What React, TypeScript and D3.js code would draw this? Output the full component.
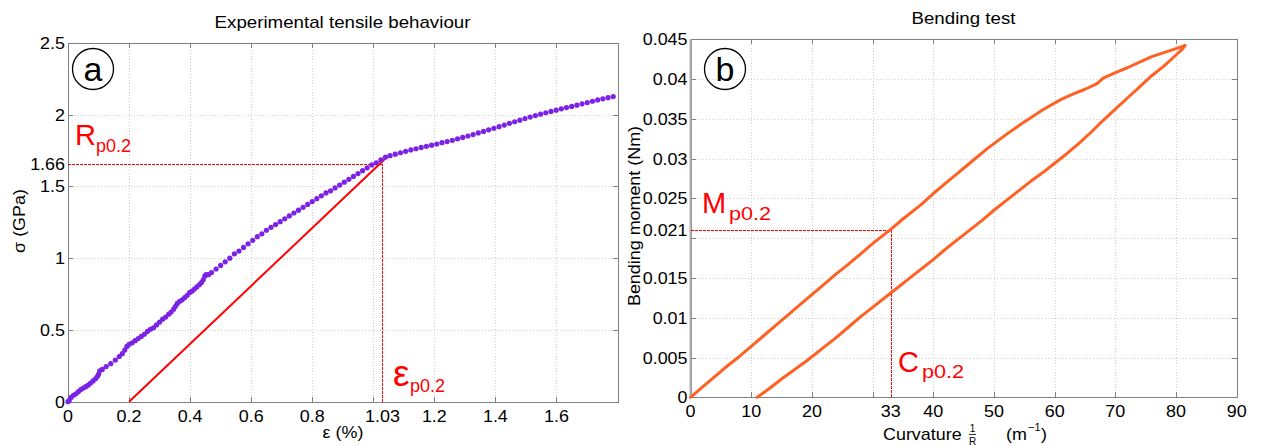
import React from "react";
import * as d3 from "d3";

// ---------- Data: panel (a) tensile test ----------
const tensileStrain = [
  0, 0.004, 0.01, 0.018, 0.026, 0.034, 0.042, 0.05, 0.058, 0.066, 0.074, 0.082, 0.09, 0.096, 0.1, 0.104,
  0.112, 0.125, 0.14, 0.155, 0.168, 0.178, 0.186, 0.193, 0.2, 0.21, 0.22, 0.23, 0.24, 0.25, 0.26, 0.27,
  0.28, 0.29, 0.3, 0.31, 0.32, 0.33, 0.338, 0.346, 0.352, 0.358, 0.366, 0.374, 0.382, 0.39, 0.398, 0.406,
  0.414, 0.422, 0.43, 0.437, 0.443, 0.448, 0.452,
  0.46, 0.47, 0.485, 0.5, 0.515, 0.53, 0.545, 0.56, 0.575, 0.59, 0.605, 0.62, 0.635, 0.65, 0.665, 0.68,
  0.695, 0.71, 0.725, 0.74, 0.755, 0.77, 0.785, 0.8, 0.815, 0.83, 0.845, 0.86, 0.875, 0.89, 0.905, 0.92,
  0.935, 0.95, 0.965, 0.98, 0.995, 1.01, 1.025, 1.04,
  1.055, 1.072, 1.089, 1.106, 1.123, 1.14, 1.157, 1.174, 1.191, 1.208, 1.225, 1.242, 1.259, 1.276, 1.293,
  1.31, 1.327, 1.344, 1.361, 1.378, 1.395, 1.412, 1.429, 1.446, 1.463, 1.48, 1.497, 1.514, 1.531, 1.548,
  1.565, 1.582, 1.599, 1.616, 1.633, 1.65, 1.667, 1.684, 1.701, 1.718, 1.735, 1.752, 1.769, 1.786,
];
const tensileStress = [
  0, 0.01, 0.03, 0.045, 0.055, 0.07, 0.085, 0.095, 0.105, 0.115, 0.13, 0.145, 0.16, 0.175, 0.19, 0.215,
  0.225, 0.245, 0.265, 0.29, 0.315, 0.335, 0.36, 0.385, 0.4, 0.41, 0.425, 0.44, 0.455, 0.47, 0.49, 0.505,
  0.515, 0.535, 0.555, 0.575, 0.59, 0.61, 0.625, 0.645, 0.665, 0.685, 0.7, 0.71, 0.725, 0.74, 0.76, 0.77,
  0.785, 0.8, 0.815, 0.83, 0.85, 0.875, 0.885,
  0.885, 0.9, 0.925, 0.95, 0.975, 1.0, 1.03, 1.05, 1.075, 1.1, 1.125, 1.15, 1.17, 1.195, 1.215, 1.235,
  1.255, 1.275, 1.295, 1.315, 1.335, 1.355, 1.375, 1.395, 1.415, 1.435, 1.455, 1.47, 1.49, 1.51, 1.53, 1.55,
  1.57, 1.59, 1.61, 1.63, 1.65, 1.665, 1.685, 1.705,
  1.715, 1.725, 1.735, 1.745, 1.755, 1.763, 1.772, 1.78, 1.788, 1.796, 1.805, 1.813, 1.822, 1.832, 1.842,
  1.852, 1.862, 1.873, 1.884, 1.895, 1.906, 1.917, 1.928, 1.94, 1.951, 1.962, 1.973, 1.984, 1.994, 2.004,
  2.014, 2.023, 2.032, 2.041, 2.05, 2.058, 2.067, 2.076, 2.085, 2.094, 2.103, 2.111, 2.119, 2.127,
];
// 0.2% offset line: start and end points
const offsetStrain = [0.2, 1.045];
const offsetStress = [0, 1.705];
const yieldStrain = 1.03;
const yieldStress = 1.66;

const aXTicks = [0, 0.2, 0.4, 0.6, 0.8, 1.0, 1.2, 1.4, 1.6];
const aXLabels = ["0", "0.2", "0.4", "0.6", "0.8", "1.03", "1.2", "1.4", "1.6"];
const aXLabelValues = [0, 0.2, 0.4, 0.6, 0.8, 1.03, 1.2, 1.4, 1.6];
const aYTicks = [0, 0.5, 1, 1.5, 2, 2.5];
const aYLabels = ["0", "0.5", "1", "1.5", "1.66", "2", "2.5"];
const aYLabelValues = [0, 0.5, 1, 1.5, 1.66, 2, 2.5];

// ---------- Data: panel (b) bending test ----------
const loadCurvature = [
  0, 2, 4, 6, 8, 10, 12, 14, 16, 18, 20, 22, 24, 26, 28, 30, 32, 33, 35, 38, 40, 43, 46, 49, 52, 55, 58,
  61, 63, 65, 67, 68, 70, 72, 74, 76, 78, 80, 81.5,
];
const loadMoment = [
  0, 0.0013, 0.0026, 0.0039, 0.0051, 0.0064, 0.0077, 0.009, 0.0103, 0.0116, 0.0129, 0.0142, 0.0155,
  0.0167, 0.018, 0.0193, 0.0205, 0.0211, 0.0224, 0.0242, 0.0256, 0.0275, 0.0294, 0.0313, 0.033, 0.0346,
  0.0361, 0.0374, 0.0381, 0.0387, 0.0394, 0.0401, 0.0408, 0.0414, 0.0421, 0.0428, 0.0433, 0.0438, 0.0442,
];
const unloadCurvature = [
  81.5, 81, 80, 78, 76, 74, 72, 70, 68, 66, 64, 62, 60, 58, 56, 54, 52, 50, 48, 46, 44, 42, 40, 38, 36,
  34, 33, 30, 28, 26, 24, 22, 20, 19, 17, 15, 13, 11,
];
const unloadMoment = [
  0.0442, 0.0437, 0.043, 0.0416, 0.0404, 0.039, 0.0376, 0.0362, 0.0348, 0.0333, 0.0319, 0.0306, 0.0294,
  0.0282, 0.0271, 0.0259, 0.0247, 0.0235, 0.0222, 0.021, 0.0198, 0.0186, 0.0173, 0.0161, 0.0149, 0.0137,
  0.0131, 0.0113, 0.0101, 0.0088, 0.0075, 0.0063, 0.0051, 0.0045, 0.0034, 0.0023, 0.0011, 0,
];
const yieldCurvature = 33;
const yieldMoment = 0.021;

const bXTicks = [0, 10, 20, 30, 40, 50, 60, 70, 80, 90];
const bXLabels = ["0", "10", "20", "33", "40", "50", "60", "70", "80", "90"];
const bXLabelValues = [0, 10, 20, 33, 40, 50, 60, 70, 80, 90];
const bYTicks = [0, 0.005, 0.01, 0.015, 0.02, 0.025, 0.03, 0.035, 0.04, 0.045];
const bYLabels = ["0", "0.005", "0.01", "0.015", "0.021", "0.025", "0.03", "0.035", "0.04", "0.045"];
const bYLabelValues = [0, 0.005, 0.01, 0.015, 0.021, 0.025, 0.03, 0.035, 0.04, 0.045];

// ---------- Styling ----------
const FONT = "'Liberation Sans', Arial, Helvetica, sans-serif";
const AXIS = "#808080";
const GRID = "#d0d0d0";
const RED = "#ff0000";
const PURPLE = "#7b22e6";
const ORANGE = "#ff6124";
const SX = 1.12;
const px = (v: number) => Math.round(v) + 0.5;

type TP = {
  x: number; y: number; size: number; sx?: number; anchor?: string; fill?: string; rot?: number;
  children: React.ReactNode;
};
const T = ({ x, y, size, sx = SX, anchor = "start", fill = "#000", rot, children }: TP) => (
  <text
    transform={`translate(${x},${y})${rot ? ` rotate(${rot})` : ""} scale(${sx},1)`}
    fontSize={size}
    textAnchor={anchor}
    fill={fill}
    fontFamily={FONT}
  >
    {children}
  </text>
);

function Frame({ x, y, xTicks, yTicks, xLabels, xLabelValues, yLabels, yLabelValues }: any) {
  const [x0, x1] = x.range();
  const [y0, y1] = y.range();
  const tl = 5;
  return (
    <g shapeRendering="crispEdges">
      {xTicks.map((t: number, i: number) => (
        <line key={"gx" + i} x1={px(x(t))} x2={px(x(t))} y1={y0} y2={y1} stroke={GRID} strokeDasharray="1,2" />
      ))}
      {yTicks.map((t: number, i: number) => (
        <line key={"gy" + i} x1={x0} x2={x1} y1={px(y(t))} y2={px(y(t))} stroke={GRID} strokeDasharray="1,2" />
      ))}
      <rect x={px(x0)} y={px(y1)} width={Math.round(x1 - x0)} height={Math.round(y0 - y1)} fill="none" stroke={AXIS} strokeWidth={1} />
      {xTicks.map((t: number, i: number) => (
        <g key={"tx" + i}>
          <line x1={px(x(t))} x2={px(x(t))} y1={y0} y2={y0 - tl} stroke={AXIS} />
          <line x1={px(x(t))} x2={px(x(t))} y1={y1} y2={y1 + tl} stroke={AXIS} />
        </g>
      ))}
      {yTicks.map((t: number, i: number) => (
        <g key={"ty" + i}>
          <line x1={x0} x2={x0 + tl} y1={px(y(t))} y2={px(y(t))} stroke={AXIS} />
          <line x1={x1} x2={x1 - tl} y1={px(y(t))} y2={px(y(t))} stroke={AXIS} />
        </g>
      ))}
      {xLabels.map((s: string, i: number) => (
        <T key={"lx" + i} x={x(xLabelValues[i])} y={y0 + 20} size={16} anchor="middle">
          {s}
        </T>
      ))}
      {yLabels.map((s: string, i: number) => (
        <T key={"ly" + i} x={x0 - 3} y={y(yLabelValues[i]) + 6} size={16} anchor="end">
          {s}
        </T>
      ))}
    </g>
  );
}

export default function App() {
  // Panel (a)
  const ax = d3.scaleLinear().domain([0, 1.8]).range([68, 617.5]);
  const ay = d3.scaleLinear().domain([0, 2.5]).range([401.7, 43]);
  // Panel (b)
  const bx = d3.scaleLinear().domain([0, 90]).range([690.5, 1236.7]);
  const by = d3.scaleLinear().domain([0, 0.045]).range([397.3, 39.1]);

  const tensile = tensileStrain.map((s, i) => [s, tensileStress[i]] as [number, number]);
  const offset = offsetStrain.map((s, i) => [s, offsetStress[i]] as [number, number]);
  const loop = [
    ...loadCurvature.map((c, i) => [c, loadMoment[i]] as [number, number]),
    ...unloadCurvature.map((c, i) => [c, unloadMoment[i]] as [number, number]),
  ];
  const aLine = d3.line<[number, number]>().x((d) => ax(d[0])).y((d) => ay(d[1]));
  const bLine = d3
    .line<[number, number]>()
    .x((d) => bx(d[0]))
    .y((d) => by(d[1]));

  const dash = "3,1";

  return (
    <svg
      width={1264}
      height={446}
      style={{ position: "absolute", left: 0, top: 0, background: "#fff" }}
    >
      <rect x={0} y={0} width={1264} height={446} fill="#fff" />

      {/* ---------- Panel (a) ---------- */}
      <Frame
        x={ax}
        y={ay}
        xTicks={aXTicks}
        yTicks={aYTicks}
        xLabels={aXLabels}
        xLabelValues={aXLabelValues}
        yLabels={aYLabels}
        yLabelValues={aYLabelValues}
      />
      <g shapeRendering="crispEdges">
        <line x1={ax(0)} x2={ax(yieldStrain)} y1={px(ay(yieldStress))} y2={px(ay(yieldStress))} stroke={RED} strokeDasharray={dash} />
        <line x1={px(ax(yieldStrain))} x2={px(ax(yieldStrain))} y1={ay(0)} y2={ay(yieldStress)} stroke={RED} strokeDasharray={dash} />
      </g>
      <path d={aLine(offset) || ""} stroke={RED} strokeWidth={2} fill="none" />
      {tensile.map((d, i) => (
        <circle key={i} cx={ax(d[0])} cy={ay(d[1])} r={2.6} fill={PURPLE} />
      ))}
      <T x={342.5} y={28} size={16} sx={1.17} anchor="middle">Experimental tensile behaviour</T>
      <T x={343} y={438} size={16} anchor="middle">ε (%)</T>
      <T x={25} y={221} size={16} anchor="middle" rot={-90}>σ (GPa)</T>
      <circle cx={93} cy={69} r={20.5} fill="none" stroke="#000" strokeWidth={1.3} />
      <T x={93} y={81} size={34} sx={1} anchor="middle">a</T>
      <T x={75} y={145} size={29} sx={1} fill={RED}>R</T>
      <T x={96} y={152} size={18} sx={1} fill={RED}>p0.2</T>
      <T x={393} y={386} size={37} sx={1} fill={RED}>ε</T>
      <T x={410} y={392} size={18} sx={1} fill={RED}>p0.2</T>

      {/* ---------- Panel (b) ---------- */}
      <Frame
        x={bx}
        y={by}
        xTicks={bXTicks}
        yTicks={bYTicks}
        xLabels={bXLabels}
        xLabelValues={bXLabelValues}
        yLabels={bYLabels}
        yLabelValues={bYLabelValues}
      />
      <line x1={bx(0)} x2={bx(0)} y1={by(0)} y2={by(0.045)} stroke="#b0b0b0" strokeWidth={2} />
      <g shapeRendering="crispEdges">
        <line x1={bx(0)} x2={bx(yieldCurvature)} y1={px(by(yieldMoment))} y2={px(by(yieldMoment))} stroke={RED} strokeDasharray={dash} />
        <line x1={px(bx(yieldCurvature))} x2={px(bx(yieldCurvature))} y1={by(0)} y2={by(yieldMoment)} stroke={RED} strokeDasharray={dash} />
      </g>
      <path
        d={bLine(loop) || ""}
        stroke={ORANGE}
        strokeWidth={3}
        fill="none"
        strokeLinejoin="round"
        strokeLinecap="round"
      />
      <T x={963.5} y={24} size={16} sx={1.17} anchor="middle">Bending test</T>
      <T x={640} y={216} size={16} anchor="middle" rot={-90}>Bending moment (Nm)</T>
      <T x={883} y={440} size={16}>Curvature</T>
      <T x={972.5} y={432} size={10} sx={1} anchor="middle">1</T>
      <line x1={969} x2={976} y1={434.5} y2={434.5} stroke="#000" strokeWidth={0.8} />
      <T x={972.5} y={445} size={10} sx={1} anchor="middle">R</T>
      <T x={1006} y={440} size={16}>(m</T>
      <T x={1028} y={431} size={11} sx={1}>−1</T>
      <T x={1041} y={440} size={16}>)</T>
      <circle cx={725} cy={69} r={20.5} fill="none" stroke="#000" strokeWidth={1.3} />
      <T x={725} y={81} size={34} sx={1} anchor="middle">b</T>
      <T x={702} y={213} size={29} sx={1} fill={RED}>M</T>
      <T x={729} y={220} size={18} sx={1.2} fill={RED}>p0.2</T>
      <T x={898} y={372} size={29} sx={1} fill={RED}>C</T>
      <T x={922} y={378} size={18} sx={1.2} fill={RED}>p0.2</T>
    </svg>
  );
}
